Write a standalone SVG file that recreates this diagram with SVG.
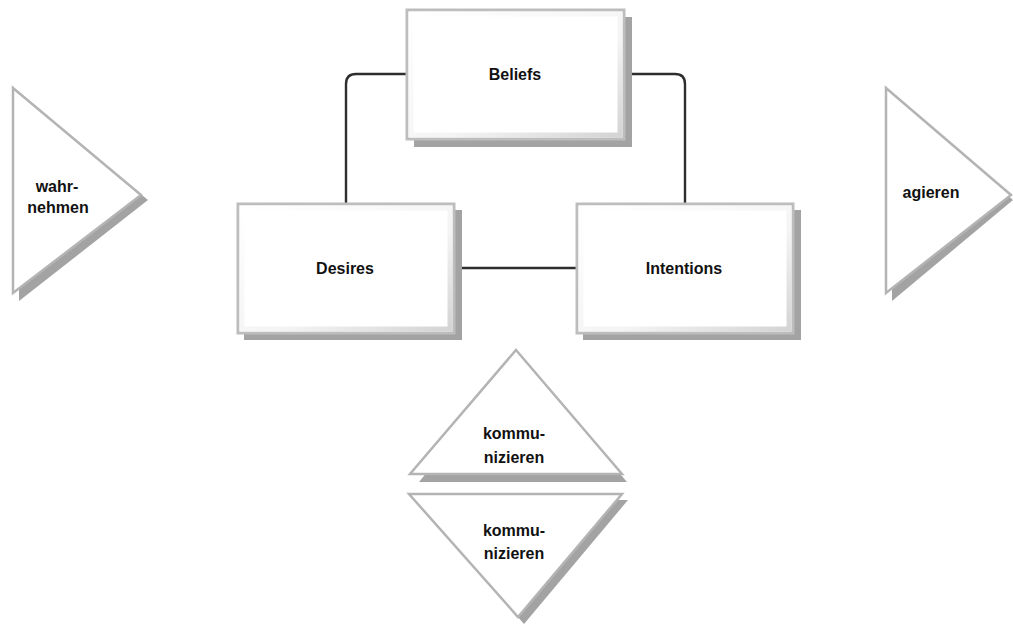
<svg xmlns="http://www.w3.org/2000/svg" width="1013" height="628" viewBox="0 0 1013 628">
<defs>
<linearGradient id="edge" x1="0" y1="0" x2="1" y2="1">
<stop offset="0" stop-color="#ffffff"/>
<stop offset="0.6" stop-color="#f4f4f4"/>
<stop offset="1" stop-color="#d4d4d4"/>
</linearGradient>
</defs>
<style>
.shadow{fill:#a3a3a3}
.box{fill:#ffffff;stroke:#bdbdbd;stroke-width:3}
.inner{fill:none;stroke:url(#edge);stroke-width:5}
.tri{fill:#ffffff;stroke:#b4b4b4;stroke-width:2.5;stroke-linejoin:miter}
.lbl{font-family:"Liberation Sans",Arial,sans-serif;font-weight:bold;font-size:16px;fill:#111;text-anchor:middle}
.tl{font-family:"Liberation Sans",Arial,sans-serif;font-weight:bold;font-size:16px;fill:#111;text-anchor:middle}
.conn{fill:none;stroke:#2e2e2e;stroke-width:2.4}
</style>
<rect width="1013" height="628" fill="#ffffff"/>
<g id="connectors">
<path class="conn" d="M406,74 H356 Q346,74 346,84 V203"/>
<path class="conn" d="M624,74 H675 Q685,74 685,84 V203"/>
<path class="conn" d="M454,268 H576"/>
</g>
<g id="beliefs">
<rect class="shadow" x="414" y="17" width="218" height="130"/>
<rect class="box" x="407" y="10" width="217" height="129"/>
<rect class="inner" x="411" y="14" width="209" height="121"/>
<text class="lbl" x="515" y="80">Beliefs</text>
</g>
<g id="desires">
<rect class="shadow" x="244" y="210" width="218" height="130"/>
<rect class="box" x="238" y="204" width="216" height="129"/>
<rect class="inner" x="242" y="208" width="208" height="121"/>
<text class="lbl" x="345" y="274">Desires</text>
</g>
<g id="intentions">
<rect class="shadow" x="583" y="210" width="218" height="130"/>
<rect class="box" x="577" y="204" width="216" height="129"/>
<rect class="inner" x="581" y="208" width="208" height="121"/>
<text class="lbl" x="684" y="274">Intentions</text>
</g>
<g id="wahrnehmen">
<polygon class="shadow" points="19,95 148,200 19,301"/>
<polygon class="tri" points="13,88 141,195 13,293"/>
<text class="tl" x="57" y="192">wahr-</text>
<text class="tl" x="58" y="213">nehmen</text>
</g>
<g id="agieren">
<polygon class="shadow" points="892,95 1013,200 892,301"/>
<polygon class="tri" points="886,88 1011,195 886,293"/>
<text class="tl" x="931" y="198">agieren</text>
</g>
<g id="kommunizieren-oben">
<polygon class="shadow" points="521,357 627,482 419,482"/>
<polygon class="tri" points="516,350 622,474 410,474"/>
<text class="tl" x="514" y="439">kommu-</text>
<text class="tl" x="514" y="463">nizieren</text>
</g>
<g id="kommunizieren-unten">
<polygon class="shadow" points="415,500 628,500 524,624"/>
<polygon class="tri" points="409,494 622,494 518,617"/>
<text class="tl" x="514" y="536">kommu-</text>
<text class="tl" x="514" y="559">nizieren</text>
</g>
</svg>
